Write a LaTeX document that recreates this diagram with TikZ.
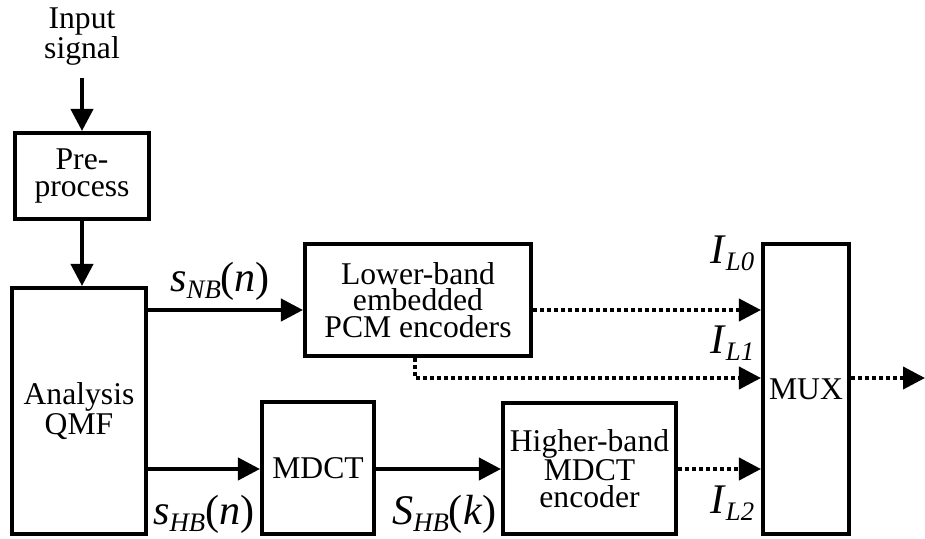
\documentclass[tikz,border=0pt]{standalone}
\usepackage{fontspec}
\newfontfamily\tnr{Liberation Serif}
\usetikzlibrary{positioning,arrows.meta}

% signal name with lowered subscript
\newcommand{\sig}[3]{\textit{#1}\raisebox{-5.5pt}{\fontsize{19pt}{19pt}\selectfont\textit{#2}}#3}

\begin{document}
\begin{tikzpicture}[x=0.025cm, y=-0.025cm,
  block/.style={draw, line width=0.1cm, align=center, inner sep=0pt,
    font=\tnr\fontsize{22.5pt}{19pt}\selectfont},
  txt/.style={align=center, inner sep=0pt, font=\tnr\fontsize{22.5pt}{19pt}\selectfont},
  arr/.style={line width=0.1cm, -{Triangle[length=0.55cm,width=0.55cm]}},
  dotarr/.style={arr, dash pattern=on 0.1cm off 0.075cm},
  lab/.style={anchor=base west, inner sep=0pt, font=\tnr\fontsize{30pt}{30pt}\selectfont}]

\useasboundingbox (0,0) rectangle (925,538);

%% ブロック
\node[txt] (insig) at (82,37) {Input\\signal};
\node[block, minimum width=3.35cm, minimum height=2.15cm] (pre) at (82,176) {Pre-\\process};
\node[block, minimum width=3.35cm, minimum height=6.15cm] (ana) at (79,411) {Analysis\\QMF};
\node[block, minimum width=5.65cm, minimum height=2.8cm] (low) at (418,300) {Lower-band\\embedded\\PCM encoders};
\node[block, minimum width=2.8cm, minimum height=3.3cm] (mdct) at (318,468) {MDCT};
\node[block, minimum width=4.325cm, minimum height=3.275cm] (high) at (589.5,468.5) {Higher-band\\MDCT\\encoder};
\node[block, minimum width=2.15cm, minimum height=7.25cm] (mux) at (806,389) {MUX};

%% 線の高さ
\coordinate (src) at (82,78);
\coordinate (nb) at (0,310);
\coordinate (l1) at (0,378);
\coordinate (hb) at (0,469);
\coordinate (out) at (925,378);

%% 矢印
\draw[arr] (src) -- (pre);
\draw[arr] (pre.south) -- (pre.south |- ana.north);
\draw[arr] (ana.east |- nb) -- (low.west |- nb);
\draw[arr] (ana.east |- hb) -- (mdct.west |- hb);
\draw[arr] (mdct.east |- hb) -- (high.west |- hb);

% 点線
\draw[dotarr] (low.east |- nb) -- (mux.west |- nb);
\draw[dotarr] ([xshift=-0.075cm]low.south) |- (mux.west |- l1);
\draw[dotarr] (high.east |- hb) -- (mux.west |- hb);
\draw[dotarr] (mux.east |- l1) -- (out);

%% 信号名
\node[lab] (snb) at (170,291) {\sig{s}{NB}{(\textit{n})}};
\node[lab] (shb) at (153,524) {\sig{s}{HB}{(\textit{n})}};
\node[lab] (shk) at (392,524) {\sig{S}{HB}{(\textit{k})}};
\node[lab] (il0) at (710,263) {\sig{I}{L0}{}};
\node[lab] (il1) at (710,353) {\sig{I}{L1}{}};
\node[lab] (il2) at (710,513) {\sig{I}{L2}{}};

\end{tikzpicture}
\end{document}
